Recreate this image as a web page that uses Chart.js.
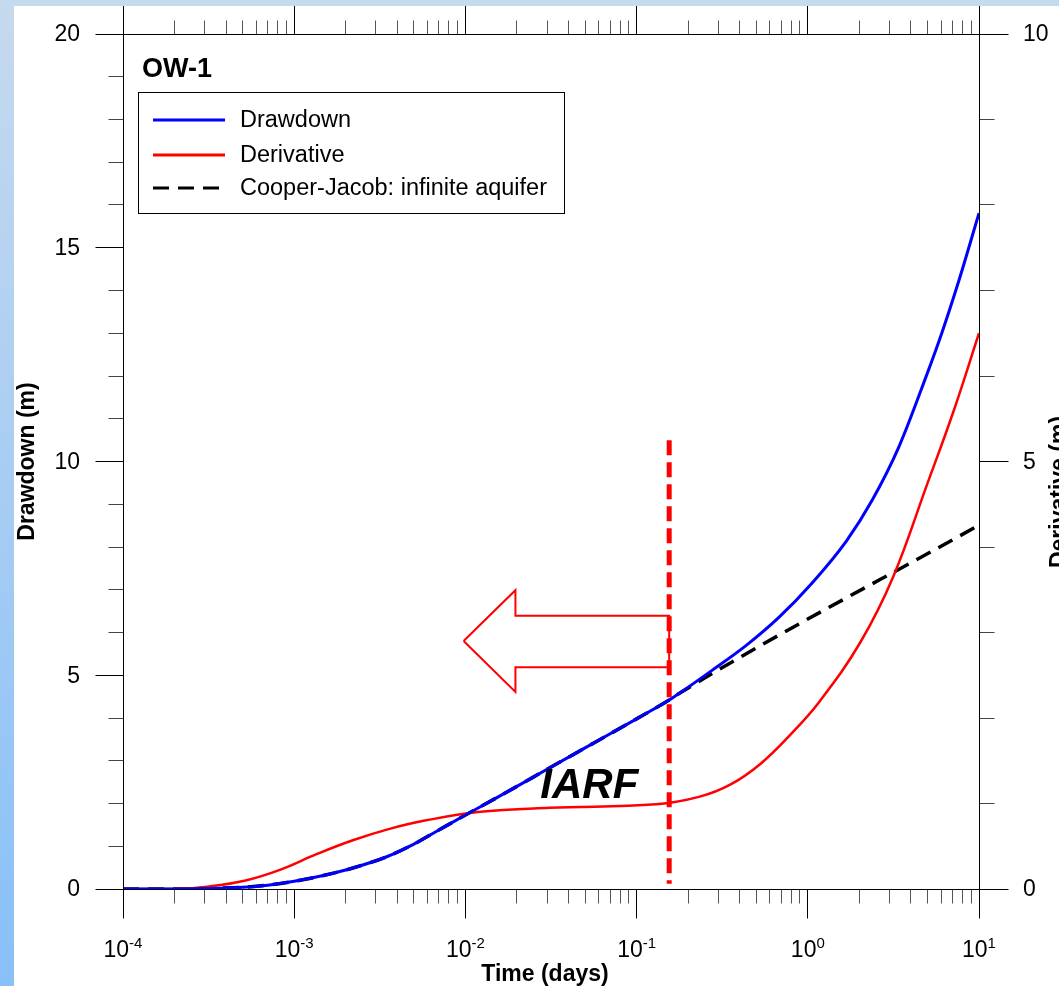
<!DOCTYPE html>
<html>
<head>
<meta charset="utf-8">
<script src="https://cdn.jsdelivr.net/npm/chart.js@4.4.1/dist/chart.umd.min.js"></script>
<style>
  html, body { margin: 0; padding: 0; background: #fff; }
  canvas { display: block; }
</style>
</head>
<body>
<canvas id="plot" width="1059" height="986"></canvas>
<script>
// drawdown at OW-1 (m) vs time (days)
const timeDays = [1e-4, 2e-4, 3e-4, 5e-4, 7e-4, 1e-3, 1.5e-3, 2.2e-3, 3.5e-3, 5e-3, 7e-3, 0.01, 0.015, 0.02, 0.03, 0.05, 0.1, 0.155, 0.178, 0.277, 0.437, 0.68, 1.06, 1.68, 2.38, 3.41, 4.9, 6.08, 7.64, 10];
const drawdown = [0, 0, 0.01, 0.04, 0.09, 0.18, 0.32, 0.49, 0.76, 1.05, 1.38, 1.73, 2.12, 2.40, 2.80, 3.30, 3.98, 4.42, 4.58, 5.12, 5.70, 6.36, 7.16, 8.14, 9.10, 10.35, 11.98, 13.02, 14.24, 15.81];

// log derivative (m), right axis
const derivTime = [1e-4, 2e-4, 3.2e-4, 5.2e-4, 8.4e-4, 1.36e-3, 2.2e-3, 3.56e-3, 5.8e-3, 0.0118, 0.031, 0.13, 0.234, 0.352, 0.526, 0.787, 1.178, 2.02, 3.15, 4.97, 7.05, 10];
const derivative = [0, 0, 0.03, 0.10, 0.23, 0.41, 0.57, 0.70, 0.80, 0.90, 0.95, 0.99, 1.08, 1.22, 1.46, 1.80, 2.20, 2.88, 3.65, 4.73, 5.57, 6.50];

// infinite aquifer response, straight line on semilog after ~0.18 d
const cjTime = [1e-4, 2e-4, 3e-4, 5e-4, 7e-4, 1e-3, 1.5e-3, 2.2e-3, 3.5e-3, 5e-3, 7e-3, 0.01, 0.015, 0.02, 0.03, 0.05, 0.1, 0.155, 0.178, 10];
const cjDrawdown = [0, 0, 0.01, 0.04, 0.09, 0.18, 0.32, 0.49, 0.76, 1.05, 1.38, 1.73, 2.12, 2.40, 2.80, 3.30, 3.98, 4.42, 4.58, 8.51];

// end of IARF marker and arrow outline
const markerTime = [0.155, 0.155];
const markerDrawdown = [10.5, 0.12];
const arrowTime = [0.00976, 0.0196, 0.0196, 0.155, 0.155, 0.0196, 0.0196, 0.00976];
const arrowDrawdown = [5.80, 6.99, 6.39, 6.39, 5.19, 5.19, 4.61, 5.80];

const decades = [-4, -3, -2, -1, 0, 1];
const leftTicks = [0, 5, 10, 15, 20];
const rightTicks = [0, 5, 10];

const FONT = '"Liberation Sans", Arial, sans-serif';

function pts(xs, ys) {
  return xs.map((x, i) => ({ x: x, y: ys[i] }));
}

const frame = {
  id: 'frame',
  beforeDraw(chart) {
    const ctx = chart.ctx;
    const w = chart.width, h = chart.height;
    ctx.save();
    const g = ctx.createLinearGradient(0, 0, 0, h);
    g.addColorStop(0, '#c6d9ee');
    g.addColorStop(1, '#88c0f8');
    ctx.fillStyle = g;
    ctx.fillRect(0, 0, w, h);
    ctx.fillStyle = '#c5d9ef';
    ctx.fillRect(0, 0, w, 6);
    ctx.fillStyle = '#ffffff';
    ctx.fillRect(14, 6, w - 14, h - 6);
    ctx.restore();
  },
  afterDraw(chart) {
    const ctx = chart.ctx;
    const a = chart.chartArea;
    const sx = chart.scales.x, sy = chart.scales.y, sy2 = chart.scales.y2;
    const L = Math.floor(a.left) + 0.5, R = Math.floor(a.right) + 0.5;
    const T = Math.floor(a.top) + 0.5, B = Math.floor(a.bottom) + 0.5;
    ctx.save();
    ctx.lineWidth = 1;

    function line(x1, y1, x2, y2, color) {
      ctx.strokeStyle = color;
      ctx.beginPath();
      ctx.moveTo(x1, y1);
      ctx.lineTo(x2, y2);
      ctx.stroke();
    }

    // x ticks, top and bottom
    decades.forEach(d => {
      const px = Math.floor(sx.getPixelForValue(Math.pow(10, d))) + 0.5;
      line(px, B, px, B + 29, '#000');
      line(px, T, px, 6, '#000');
      if (d < 1) {
        for (let k = 2; k <= 9; k++) {
          const mx = Math.floor(sx.getPixelForValue(k * Math.pow(10, d))) + 0.5;
          line(mx, B, mx, B + 14, '#555');
          line(mx, T, mx, T - 14, '#555');
        }
      }
    });

    // left axis ticks
    for (let v = 0; v <= 20; v++) {
      const py = Math.floor(sy.getPixelForValue(v)) + 0.5;
      if (v % 5 === 0) line(L, py, L - 28, py, '#000');
      else line(L, py, L - 15, py, '#444');
    }
    // right axis ticks
    for (let v = 0; v <= 10; v++) {
      const py = Math.floor(sy2.getPixelForValue(v)) + 0.5;
      if (v % 5 === 0) line(R, py, R + 29, py, '#000');
      else line(R, py, R + 15, py, '#444');
    }

    // plot frame
    ctx.strokeStyle = '#000';
    ctx.strokeRect(L, T, R - L, B - T);

    // tick labels
    ctx.fillStyle = '#000';
    ctx.textBaseline = 'middle';
    ctx.font = '23px ' + FONT;
    ctx.textAlign = 'right';
    leftTicks.forEach(v => ctx.fillText(String(v), 80, sy.getPixelForValue(v) + 1));
    ctx.textAlign = 'left';
    rightTicks.forEach(v => ctx.fillText(String(v), 1023, sy2.getPixelForValue(v) + 1));

    ctx.textBaseline = 'alphabetic';
    decades.forEach(d => {
      const cx = sx.getPixelForValue(Math.pow(10, d));
      const exp = String(d);
      ctx.font = '23px ' + FONT;
      const bw = ctx.measureText('10').width;
      ctx.font = '15px ' + FONT;
      const ew = ctx.measureText(exp).width;
      const left = cx - (bw + ew) / 2;
      ctx.textAlign = 'left';
      ctx.font = '23px ' + FONT;
      ctx.fillText('10', left, 957);
      ctx.font = '15px ' + FONT;
      ctx.fillText(exp, left + bw, 948);
    });

    // axis titles
    ctx.font = 'bold 23px ' + FONT;
    ctx.textAlign = 'center';
    ctx.textBaseline = 'middle';
    ctx.fillText('Time (days)', 545, 975);
    ctx.save();
    ctx.translate(28, (a.top + a.bottom) / 2);
    ctx.rotate(-Math.PI / 2);
    ctx.fillText('Drawdown (m)', 0, 0);
    ctx.restore();
    ctx.save();
    ctx.translate(1060, 492);
    ctx.rotate(-Math.PI / 2);
    ctx.fillText('Derivative (m)', 0, 0);
    ctx.restore();

    // well name
    ctx.textAlign = 'left';
    ctx.textBaseline = 'alphabetic';
    ctx.font = 'bold 27px ' + FONT;
    ctx.fillText('OW-1', 142, 77);

    // legend
    ctx.fillStyle = '#fff';
    ctx.fillRect(139, 92, 426, 121);
    ctx.strokeStyle = '#000';
    ctx.strokeRect(138.5, 92.5, 426, 121);
    const rows = [120, 155, 188];
    chart.data.datasets.filter(ds => ds.inLegend).forEach((ds, i) => {
      const y = rows[i];
      ctx.strokeStyle = ds.borderColor;
      ctx.lineWidth = 3;
      ctx.setLineDash(ds.borderDash || []);
      ctx.beginPath();
      ctx.moveTo(153, y);
      ctx.lineTo(225, y);
      ctx.stroke();
      ctx.setLineDash([]);
      ctx.fillStyle = '#000';
      ctx.font = '23.5px ' + FONT;
      ctx.textBaseline = 'middle';
      ctx.fillText(ds.label, 240, y + 1);
    });

    // flow regime label
    ctx.font = 'italic bold 42px ' + FONT;
    ctx.textBaseline = 'alphabetic';
    ctx.fillText('IARF', sx.getPixelForValue(0.0274), sy.getPixelForValue(2.12));
    ctx.restore();
  }
};

new Chart(document.getElementById('plot'), {
  type: 'scatter',
  data: {
    datasets: [
      {
        label: 'Boundary marker', data: pts(markerTime, markerDrawdown), yAxisID: 'y',
        borderColor: '#ff0000', borderWidth: 5, borderDash: [15, 7], showLine: true,
        pointRadius: 0, order: 0
      },
      {
        label: 'Arrow', data: pts(arrowTime, arrowDrawdown), yAxisID: 'y',
        borderColor: '#ff0000', borderWidth: 2, showLine: true, pointRadius: 0, order: 1
      },
      {
        label: 'Drawdown', inLegend: true, data: pts(timeDays, drawdown), yAxisID: 'y',
        borderColor: '#0000ff', borderWidth: 3, showLine: true, pointRadius: 0,
        cubicInterpolationMode: 'monotone', order: 2
      },
      {
        label: 'Derivative', inLegend: true, data: pts(derivTime, derivative), yAxisID: 'y2',
        borderColor: '#ff0000', borderWidth: 2.5, showLine: true, pointRadius: 0,
        tension: 0.4, order: 3
      },
      {
        label: 'Cooper-Jacob: infinite aquifer', inLegend: true, data: pts(cjTime, cjDrawdown), yAxisID: 'y',
        borderColor: '#000000', borderWidth: 3.5, borderDash: [16, 9], showLine: true, pointRadius: 0,
        cubicInterpolationMode: 'monotone', order: 4
      }
    ]
  },
  options: {
    responsive: false,
    animation: false,
    devicePixelRatio: 1,
    layout: { padding: { left: 123, top: 34, right: 80, bottom: 97 } },
    scales: {
      x: { type: 'logarithmic', min: 1e-4, max: 10, display: false },
      y: { type: 'linear', min: 0, max: 20, display: false },
      y2: { type: 'linear', min: 0, max: 10, display: false, position: 'right' }
    },
    plugins: {
      legend: { display: false },
      tooltip: { enabled: false }
    }
  },
  plugins: [frame]
});
</script>
</body>
</html>
